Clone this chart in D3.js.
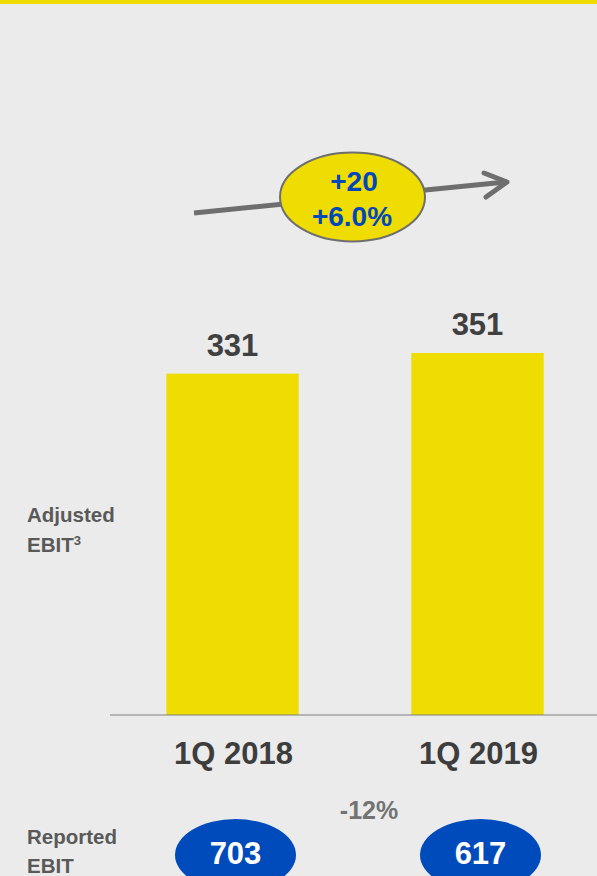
<!DOCTYPE html>
<html><head><meta charset="utf-8">
<script src="https://cdn.jsdelivr.net/npm/d3@7"></script>
<style>html,body{margin:0;padding:0;background:#ebebeb;}svg{display:block;}</style>
</head><body>
<script>
const categories = ["1Q 2018", "1Q 2019"];
const adjustedEbit = [331, 351];
const reportedEbit = [703, 617];
const changeAbs = "+20";
const changePct = "+6.0%";
const reportedChange = "-12%";

const W = 597, H = 876;
const font = "'Liberation Sans', Arial, sans-serif";
const svg = d3.select("body").append("svg").attr("width", W).attr("height", H);
svg.append("rect").attr("width", W).attr("height", H).attr("fill", "#ebebeb");
svg.append("rect").attr("width", W).attr("height", 4).attr("fill", "#f0dc00");

const x = d3.scaleBand().domain(categories).range([110, 600]).paddingInner(0.46).paddingOuter(0.23);
const y = d3.scaleLinear().domain([0, 693.3]).range([715, 0]);

svg.selectAll(".bar").data(adjustedEbit).join("rect")
  .attr("x", (d, i) => x(categories[i]))
  .attr("y", d => y(d))
  .attr("width", x.bandwidth())
  .attr("height", d => y(0) - y(d))
  .attr("fill", "#efdc00");

svg.selectAll(".val").data(adjustedEbit).join("text")
  .attr("x", (d, i) => x(categories[i]) + x.bandwidth() / 2)
  .attr("y", d => y(d) - 18)
  .attr("text-anchor", "middle")
  .attr("font-family", font).attr("font-weight", "bold").attr("font-size", 31)
  .attr("fill", "#404040").text(d => d);

const axis = svg.append("g").attr("transform", "translate(0,715)")
  .call(d3.axisBottom(x).tickSize(0).tickPadding(0).tickFormat(""));
axis.select(".domain").attr("stroke", "#808080").attr("stroke-width", 1.2).attr("d", "M110,0H597");

svg.selectAll(".cat").data(categories).join("text")
  .attr("x", d => x(d) + x.bandwidth() / 2 + 1)
  .attr("y", 764)
  .attr("text-anchor", "middle")
  .attr("font-family", font).attr("font-weight", "bold").attr("font-size", 31)
  .attr("fill", "#3d3d3d").text(d => d);

// left labels
const lab = svg.append("g").attr("font-family", font).attr("font-weight", "bold").attr("font-size", 20.5).attr("fill", "#595959");
lab.append("text").attr("x", 27).attr("y", 522).text("Adjusted");
const e = lab.append("text").attr("x", 27).attr("y", 552).text("EBIT");
e.append("tspan").attr("font-size", 13).attr("dy", -7).text("3");
lab.append("text").attr("x", 27).attr("y", 844).text("Reported");
lab.append("text").attr("x", 27).attr("y", 873).text("EBIT");

// reported ellipses
reportedEbit.forEach((v, i) => {
  const cx = x(categories[i]) + x.bandwidth() / 2 + 3;
  svg.append("ellipse").attr("cx", cx).attr("cy", 855).attr("rx", 60.5).attr("ry", 36).attr("fill", "#004bbb");
  svg.append("text").attr("x", cx).attr("y", 864).attr("text-anchor", "middle")
    .attr("font-family", font).attr("font-weight", "bold").attr("font-size", 31)
    .attr("fill", "#ffffff").text(v);
});
svg.append("text").attr("x", 369).attr("y", 819).attr("text-anchor", "middle")
  .attr("font-family", font).attr("font-weight", "bold").attr("font-size", 25)
  .attr("fill", "#737373").text(reportedChange);

// growth arrow
const g = svg.append("g");
g.append("line").attr("x1", 194).attr("y1", 213).attr("x2", 506).attr("y2", 182)
  .attr("stroke", "#6e6e6e").attr("stroke-width", 5);
g.append("path").attr("d", "M484,173 L507,182 L486,197")
  .attr("fill", "none").attr("stroke", "#6e6e6e").attr("stroke-width", 5)
  .attr("stroke-linecap", "round").attr("stroke-linejoin", "round");
g.append("ellipse").attr("cx", 352.5).attr("cy", 197).attr("rx", 72.5).attr("ry", 44.5)
  .attr("fill", "#efdc00").attr("stroke", "#6e6e6e").attr("stroke-width", 2);
g.append("text").attr("x", 354).attr("y", 191).attr("text-anchor", "middle")
  .attr("font-family", font).attr("font-weight", "bold").attr("font-size", 28)
  .attr("fill", "#0047bb").text(changeAbs);
g.append("text").attr("x", 352).attr("y", 226).attr("text-anchor", "middle")
  .attr("font-family", font).attr("font-weight", "bold").attr("font-size", 28)
  .attr("fill", "#0047bb").text(changePct);
</script>
</body></html>
